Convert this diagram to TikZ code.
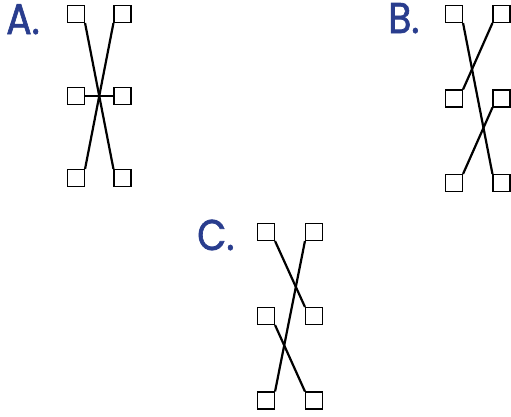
\documentclass[tikz,border=0pt]{standalone}
\usepackage{fontspec}
\newfontfamily\labelfont[FakeBold=1.5,FakeStretch=0.88]{Poppins}
\definecolor{labelblue}{RGB}{41,61,142}
\tikzset{
	box/.style={draw, inner sep=0pt, minimum size=17pt, line width=1.1pt},
	link/.style={line width=2.2pt},
	tag/.style={anchor=base west, inner sep=0pt, text=labelblue, font=\labelfont\fontsize{43}{43}\selectfont}
}
\begin{document}
\begin{tikzpicture}[x=1pt,y=-1pt]
	\useasboundingbox (0,0) rectangle (511,416);

	% A
	\node[tag] (tA) at (6,34) {A.};
	\node[box] (a1) at (76,14) {};
	\node[box] (a2) at (122.5,14) {};
	\node[box] (a3) at (76,96) {};
	\node[box] (a4) at (122.5,96) {};
	\node[box] (a5) at (76,178) {};
	\node[box] (a6) at (122.5,178) {};
	\draw[link] (a1.south east) -- (a6.north west);
	\draw[link] (a2.south west) -- (a5.north east);
	\draw[link] (a3.east) -- (a4.west);

	% B
	\node[tag] (tB) at (388,33) {B.};
	\node[box] (b1) at (454,14) {};
	\node[box] (b2) at (501.5,14) {};
	\node[box] (b3) at (454,98.5) {};
	\node[box] (b4) at (501.5,98.5) {};
	\node[box] (b5) at (454,183) {};
	\node[box] (b6) at (501.5,183) {};
	\draw[link] (b1.south east) -- (b6.north west);
	\draw[link] (b2.south west) -- (b3.north east);
	\draw[link] (b4.south west) -- (b5.north east);

	% C
	\node[tag] (tC) at (197,250) {C.};
	\node[box] (c1) at (266,232) {};
	\node[box] (c2) at (314,232) {};
	\node[box] (c3) at (266,316) {};
	\node[box] (c4) at (314,316) {};
	\node[box] (c5) at (266,400.5) {};
	\node[box] (c6) at (314,400.5) {};
	\draw[link] (c1.south east) -- (c4.north west);
	\draw[link] (c2.south west) -- (c5.north east);
	\draw[link] (c3.south east) -- (c6.north west);
\end{tikzpicture}
\end{document}
